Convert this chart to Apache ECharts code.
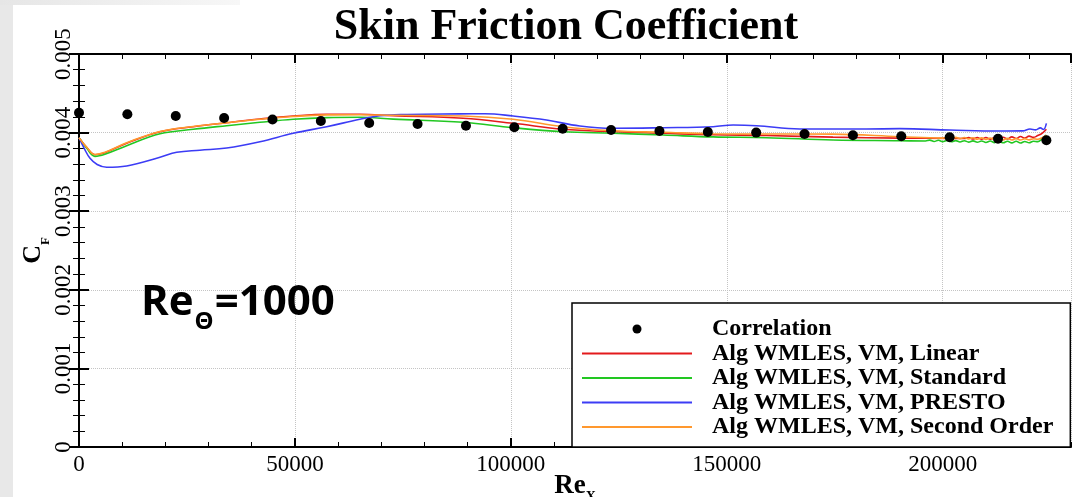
<!DOCTYPE html>
<html>
<head>
<meta charset="utf-8">
<script src="https://cdn.jsdelivr.net/npm/echarts@6/dist/echarts.min.js"></script>
<style>
  html, body { margin: 0; padding: 0; background: #fff; }
  #chart { width: 1075px; height: 497px; }
</style>
</head>
<body>
<div id="chart"></div>
<script>
// Skin friction coefficient C_F along Re_x, Re_theta = 1000 inflow

const seriesNames = [
  'Correlation',
  'Alg WMLES, VM, Linear',
  'Alg WMLES, VM, Standard',
  'Alg WMLES, VM, PRESTO',
  'Alg WMLES, VM, Second Order'
];

// correlation points
const corrRex = [0, 11200, 22400, 33600, 44800, 56000, 67200, 78400, 89600, 100800,
  112000, 123200, 134400, 145600, 156800, 168000, 179200, 190400, 201600, 212800, 224000];
const corrCf = [0.004253, 0.004233, 0.004211, 0.004186, 0.004166, 0.004148, 0.004122,
  0.004109, 0.004088, 0.004067, 0.004050, 0.004033, 0.004020, 0.004008, 0.004000,
  0.003982, 0.003966, 0.003953, 0.003940, 0.003922, 0.003902];

// [Re_x, C_F] for each WMLES run
const cfLinear = [
  [0,0.003935],[1800,0.003810],[3700,0.003719],[6000,0.003745],[11040,0.003864],
  [18750,0.004011],[26460,0.004075],[34190,0.004126],[41900,0.004173],[49600,0.004211],
  [57340,0.004233],[65040,0.004233],[72760,0.004215],[88960,0.004182],[100530,0.004118],
  [112100,0.004042],[123680,0.004011],[135250,0.003991],[146830,0.003972],[159190,0.003963],
  [174600,0.003942],[190050,0.003930],[201600,0.003927],[205000,0.003925],[206000,0.003938],
  [207000,0.003918],[208000,0.003938],[209000,0.003916],[210000,0.003937],[211000,0.003915],
  [212000,0.003938],[213000,0.003916],[214000,0.003940],[215000,0.003918],[216000,0.003946],
  [217000,0.003924],[218000,0.003950],[219000,0.003930],[220000,0.003955],[221000,0.003940],
  [222000,0.003962],[223000,0.003990],[224000,0.004042]
];
const cfStandard = [
  [0,0.003935],[1800,0.003800],[3700,0.003698],[6000,0.003725],[11040,0.003833],
  [18750,0.003985],[26460,0.004042],[34190,0.004088],[41900,0.004131],[49600,0.004169],
  [57340,0.004190],[65040,0.004195],[72760,0.004172],[88960,0.004131],[100530,0.004062],
  [112100,0.004011],[123680,0.003991],[135250,0.003969],[146830,0.003945],[159190,0.003935],
  [174600,0.003906],[190050,0.003897],[196000,0.003893],[197000,0.003904],[198000,0.003887],
  [199000,0.003902],[200000,0.003885],[201000,0.003900],[202000,0.003883],[203000,0.003898],
  [204000,0.003881],[205000,0.003897],[206000,0.003879],[207000,0.003895],[208000,0.003877],
  [209000,0.003894],[210000,0.003875],[211000,0.003893],[212000,0.003873],[213000,0.003891],
  [214000,0.003871],[215000,0.003890],[216000,0.003869],[217000,0.003889],[218000,0.003868],
  [219000,0.003887],[220000,0.003870],[221000,0.003890],[222000,0.003885],[223000,0.003920],
  [224000,0.003969]
];
const cfPresto = [
  [0,0.003935],[1200,0.003800],[2550,0.003673],[4200,0.003595],[6410,0.003559],
  [11040,0.003575],[18750,0.003686],[22620,0.003749],[28000,0.003776],[34190,0.003804],
  [41900,0.003884],[49600,0.003991],[57340,0.004075],[65040,0.004169],[69680,0.004215],
  [76000,0.004230],[88000,0.004238],[94000,0.004240],[100530,0.004211],[108260,0.004160],
  [115970,0.004084],[123680,0.004055],[135250,0.004062],[146830,0.004075],[151460,0.004097],
  [156870,0.004088],[166900,0.004046],[182330,0.004046],[190050,0.004050],[201620,0.004033],
  [213190,0.004020],[218500,0.004022],[220200,0.004045],[221500,0.004035],[222600,0.004060],
  [223300,0.004040],[224000,0.004118]
];
const cfSecondOrder = [
  [0,0.003935],[1800,0.003812],[3700,0.003722],[6000,0.003750],[11040,0.003870],
  [18750,0.004015],[26460,0.004078],[34190,0.004126],[41900,0.004170],[49600,0.004205],
  [57340,0.004225],[65040,0.004228],[72760,0.004220],[88960,0.004211],[100530,0.004169],
  [112100,0.004075],[123680,0.004024],[135250,0.004004],[146830,0.003985],[159190,0.003982],
  [174600,0.003980],[190050,0.003948],[200000,0.003930],[201000,0.003941],[202000,0.003925],
  [203000,0.003939],[204000,0.003922],[205000,0.003937],[206000,0.003919],[207000,0.003935],
  [208000,0.003916],[209000,0.003933],[210000,0.003913],[211000,0.003931],[212000,0.003910],
  [213000,0.003929],[214000,0.003908],[215000,0.003927],[216000,0.003906],[217000,0.003925],
  [218000,0.003905],[219000,0.003923],[220000,0.003908],[221000,0.003921],[222000,0.003915],
  [223000,0.003935],[224000,0.003966]
];

const lineColors = ['#e31a1c', '#22c722', '#3c3cf5', '#ff982e'];

const serif = 'Liberation Serif';
const xMax = 229700;
// thin bar used as the legend key of each line series
const lineKey = 'path://M0,0L110,0L110,1.8L0,1.8Z';

function frameAxis(extra) {
  return Object.assign({
    type: 'value',
    axisLine: { show: true, lineStyle: { color: '#000', width: 2 } },
    axisTick: { show: true, inside: true, length: 9, lineStyle: { color: '#000', width: 2 } },
    axisLabel: { show: false },
    splitLine: { show: false }
  }, extra);
}

const chart = echarts.init(document.getElementById('chart'), null, { renderer: 'canvas' });

const option = {
  animation: false,
  backgroundColor: '#fff',
  title: {
    text: 'Skin Friction Coefficient',
    left: 561,
    textAlign: 'center',
    top: 1,
    textStyle: { fontFamily: serif, fontWeight: 'bold', fontSize: 44, color: '#000' }
  },
  grid: { left: 79, top: 54, width: 992, height: 393, containLabel: false, outerBoundsMode: 'none' },
  xAxis: [
    frameAxis({
      position: 'bottom', min: 0, max: xMax, interval: 50000,
      axisLabel: {
        show: true, showMaxLabel: false, fontFamily: serif, fontSize: 23, color: '#000', margin: 6,
        formatter: (v) => String(v)
      },
      splitLine: { show: true, lineStyle: { type: 'dotted', color: '#c4c4c4', width: 1 } },
      name: '{r|Re}{s|X}',
      nameLocation: 'middle',
      nameGap: 26,
      nameMoveOverlap: false,
      nameTextStyle: {
        rich: {
          r: { fontFamily: serif, fontWeight: 'bold', fontSize: 27, lineHeight: 27, color: '#000', verticalAlign: 'top' },
          s: { fontFamily: serif, fontWeight: 'bold', fontSize: 14, lineHeight: 14, color: '#000', verticalAlign: 'top', padding: [17, 0, 0, 0] }
        }
      }
    }),
    frameAxis({
      position: 'bottom', min: 0, max: xMax, interval: 10000,
      axisLine: { show: false },
      axisTick: { show: true, inside: true, length: 5, lineStyle: { color: '#000', width: 1 } }
    }),
    frameAxis({ position: 'top', min: 0, max: xMax, interval: 50000 }),
    frameAxis({
      position: 'top', min: 0, max: xMax, interval: 10000,
      axisLine: { show: false },
      axisTick: { show: true, inside: true, length: 5, lineStyle: { color: '#000', width: 1 } }
    })
  ],
  yAxis: [
    frameAxis({
      position: 'left', min: 0, max: 0.005, interval: 0.001,
      axisTick: { show: true, inside: true, length: 10, lineStyle: { color: '#000', width: 2 } },
      minorTick: { show: true, splitNumber: 5, length: 6, lineStyle: { color: '#000', width: 1 } },
      axisLabel: {
        show: true, rotate: 90, fontFamily: serif, fontSize: 23, color: '#000', margin: 4,
        align: 'center', verticalAlign: 'bottom'
      },
      splitLine: { show: true, lineStyle: { type: 'dotted', color: '#c4c4c4', width: 1 } },
      name: '{c|C}{f|F}',
      nameLocation: 'middle',
      nameGap: 33,
      nameMoveOverlap: false,
      nameTextStyle: {
        rich: {
          c: { fontFamily: serif, fontWeight: 'bold', fontSize: 26, lineHeight: 26, color: '#000', verticalAlign: 'top' },
          f: { fontFamily: serif, fontWeight: 'bold', fontSize: 13, lineHeight: 13, color: '#000', verticalAlign: 'top', padding: [19, 0, 0, 0] }
        }
      }
    }),
    frameAxis({
      position: 'right', min: 0, max: 0.005, interval: 0.001,
      axisTick: { show: true, inside: true, length: 10, lineStyle: { color: '#000', width: 2 } },
      minorTick: { show: true, splitNumber: 5, length: 6, lineStyle: { color: '#000', width: 1 } }
    })
  ],
  legend: {
    orient: 'vertical',
    left: 572,
    top: 303,
    padding: [14, 17, 8, 10],
    itemWidth: 110,
    itemHeight: 9,
    itemGap: 0.5,
    backgroundColor: '#fff',
    borderColor: '#000',
    borderWidth: 1.5,
    borderRadius: 0,
    selectedMode: false,
    textStyle: {
      fontFamily: serif, fontWeight: 'bold', fontSize: 24, lineHeight: 24,
      color: '#000', padding: [0, 0, 0, 15]
    },
    data: seriesNames.map((n, i) => (i === 0 ? { name: n, icon: 'circle' } : { name: n, icon: lineKey }))
  },
  graphic: [
    {
      type: 'rect', silent: true, z: -10,
      shape: { x: 0, y: 0, width: 13, height: 497 },
      style: { fill: '#e8e8e8' }
    },
    {
      type: 'rect', silent: true, z: -10,
      shape: { x: 0, y: 0, width: 240, height: 5 },
      style: {
        fill: new echarts.graphic.LinearGradient(0, 0, 1, 0, [
          { offset: 0, color: '#e6e6e6' },
          { offset: 1, color: '#f7f7f7' }
        ])
      }
    },
    {
      type: 'text', left: 141, top: 282, z: 10,
      style: {
        text: '{a|Re}{b|Θ}{a|=1000}',
        rich: {
          a: { fontFamily: 'Open Sans', fontWeight: 'bold', fontSize: 42, lineHeight: 42, fill: '#000', verticalAlign: 'top' },
          b: { fontFamily: 'Open Sans', fontWeight: 'bold', fontSize: 24, lineHeight: 24, fill: '#000', verticalAlign: 'top', padding: [28, 1, 0, 1] }
        }
      }
    }
  ],
  series: [
    {
      name: seriesNames[0], type: 'scatter', xAxisIndex: 0, yAxisIndex: 0, z: 5,
      symbol: 'circle', symbolSize: 10,
      itemStyle: { color: '#000', opacity: 1 },
      data: corrRex.map((x, i) => [x, corrCf[i]])
    },
    ...[cfLinear, cfStandard, cfPresto, cfSecondOrder].map((d, i) => ({
      name: seriesNames[i + 1], type: 'line', xAxisIndex: 0, yAxisIndex: 0,
      symbol: 'none', showSymbol: false, smooth: 0.4,
      lineStyle: { color: lineColors[i], width: 1.6 },
      itemStyle: { color: lineColors[i] },
      data: d
    }))
  ]
};

chart.setOption(option);
</script>
</body>
</html>
